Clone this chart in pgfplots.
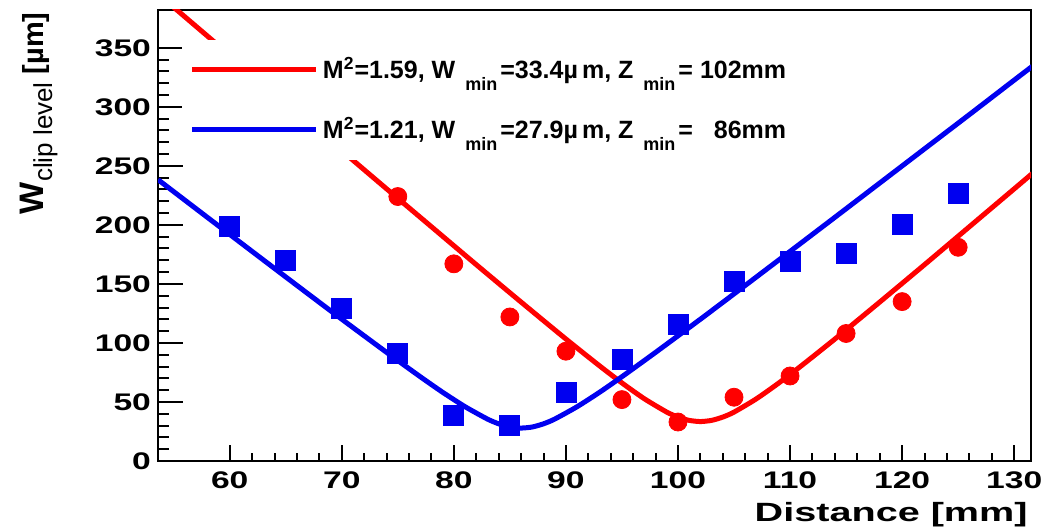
\documentclass[border=0pt]{standalone}
\usepackage{fontspec}
\setmainfont{Liberation Sans}
\usepackage{graphicx}
\usepackage{pgfplots}
\pgfplotsset{compat=1.18}

\definecolor{fitred}{RGB}{255,0,0}
\definecolor{fitblue}{RGB}{0,0,240}

\newcommand{\tickfont}{\fontsize{12}{13}\selectfont\bfseries}
\newcommand{\sub}[1]{\hspace{5pt}\raisebox{-6pt}{\fontsize{9}{10}\selectfont #1}\hspace{1.5pt}}

\begin{document}
\begin{tikzpicture}
\begin{axis}[
    name=ax,
    scale only axis,
    width=436.5pt,
    height=225.5pt,
    xmin=53.6, xmax=131.5,
    ymin=0, ymax=382,
    xtick={60,70,...,130},
    ytick={0,50,...,350},
    minor x tick num=4,
    minor y tick num=4,
    tick align=inside,
    xtick pos=bottom,
    ytick pos=left,
    major tick length=12.5pt,
    minor tick length=5.5pt,
    every major x tick/.append style={/pgfplots/major tick length=8pt},
    every minor x tick/.append style={/pgfplots/minor tick length=4pt},
    tick style={black, line width=1pt},
    axis line style={line width=1.2pt},
    /pgf/number format/assume math mode=true,
    xticklabel={\scalebox{1.4}[1]{\pgfmathprintnumber{\tick}}},
    yticklabel={\scalebox{1.4}[1]{\pgfmathprintnumber{\tick}}},
    ticklabel style={font=\tickfont},
    xticklabel style={yshift=-2pt},
    legend style={
        at={(rel axis cs:0.027,0.935)}, anchor=north west,
        draw=none, fill=white,
        inner xsep=4pt, inner ysep=7pt,
        row sep=14pt,
        font=\fontsize{12.5}{14}\selectfont\bfseries,
    },
    legend cell align=left,
    legend image code/.code={
        \draw[line width=2.5pt] (0pt,0pt) -- (55pt,0pt);
        \path (0pt,0pt) -- (62pt,0pt);
    },
]

% fitted beam widths
\addplot[fitred, line width=2.5pt, smooth, tension=0.4] coordinates {
    (54,392.4) (58,360.0) (62,327.6) (66,295.2) (70,262.8) (74,230.5)
    (78,198.4) (82,166.3) (86,134.6) (90,103.3) (93,80.6) (95,66.1)
    (97,52.7) (99,41.4) (100,37.2) (101,34.4) (102,33.4) (103,34.4)
    (104,37.2) (105,41.4) (107,52.7) (109,66.1) (111,80.6) (114,103.3)
    (118,134.6) (122,166.3) (126,198.4) (130,230.5) (131.6,243.4)
};
\addlegendentry{M\textsuperscript{2}=1.59, W\sub{min}=33.4µ\,m, Z\sub{min}= 102mm}

\addplot[fitblue, line width=2.5pt, smooth, tension=0.4] coordinates {
    (53.6,238.3) (58,206.4) (62,177.5) (66,148.7) (70,120.1) (74,92.0)
    (77,71.4) (79,58.2) (81,46.0) (83,35.5) (84,31.5) (85,28.8) (86,27.9)
    (87,28.8) (88,31.5) (89,35.5) (91,46.0) (93,58.2) (95,71.4) (98,92.0)
    (102,120.1) (106,148.7) (110,177.5) (114,206.4) (118,235.4)
    (122,264.4) (126,293.4) (130,322.6) (131.6,334.2)
};
\addlegendentry{M\textsuperscript{2}=1.21, W\sub{min}=27.9µ\,m, Z\sub{min}=\hphantom{1} 86mm}

% measured points
\addplot[only marks, mark=*, mark size=4.5pt, color=fitred, forget plot] coordinates {
    (75,224) (80,167) (85,122) (90,93) (95,52) (100,33)
    (105,54) (110,72) (115,108) (120,135) (125,181)
};
\addplot[only marks, mark=square*, mark size=5pt, color=fitblue, forget plot] coordinates {
    (60,199) (65,170) (70,129) (75,91) (80,39) (85,30) (90,58)
    (95,86) (100,116) (105,152) (110,169) (115,176) (120,200) (125,227)
};
\end{axis}

\node[rotate=90, anchor=south east, inner sep=0pt]
    at ([xshift=-50pt, yshift=-1pt]ax.north west)
    {{\fontsize{17}{18}\selectfont\bfseries W}\raisebox{-4.5pt}{\fontsize{13}{14}\selectfont clip level}{\fontsize{14.5}{16}\selectfont\bfseries\ [µm]}};
\node[anchor=north east, inner sep=0pt]
    at ([xshift=-1.5pt, yshift=-20.5pt]ax.south east)
    {\scalebox{1.5}[1]{\fontsize{13.2}{15}\selectfont\bfseries Distance [mm]}};

\pgfresetboundingbox
\path (ax.south west) ++(-79pt,-34pt) rectangle ([xshift=6.5pt, yshift=5pt]ax.north east);
\end{tikzpicture}
\end{document}
